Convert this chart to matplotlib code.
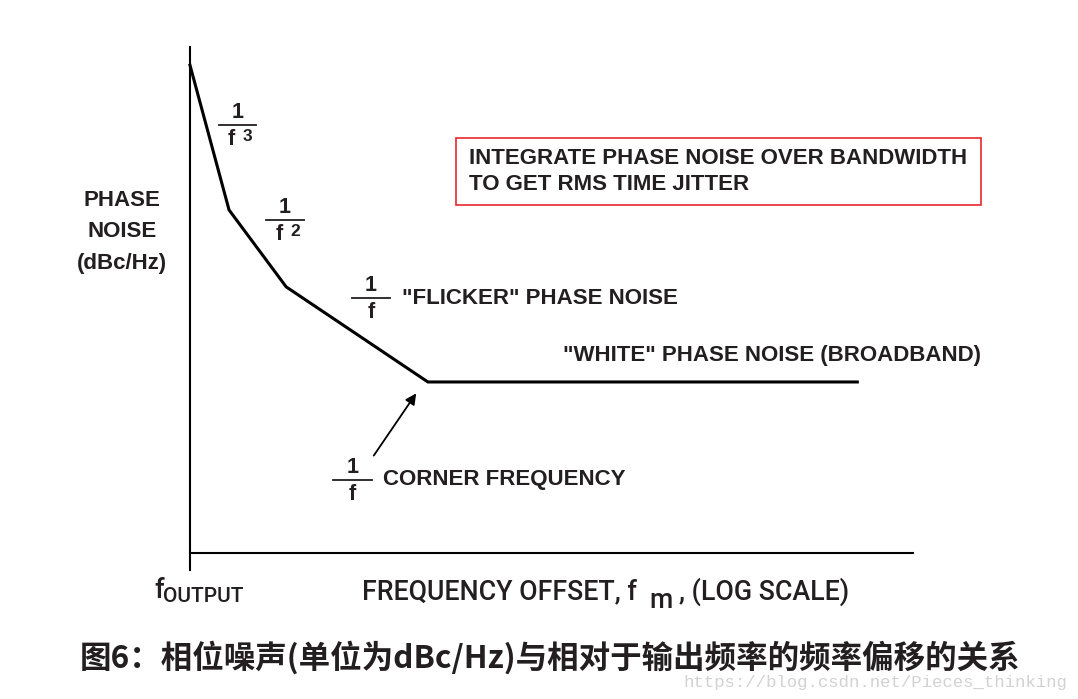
import matplotlib
matplotlib.use('Agg')

import matplotlib.pyplot as plt
from matplotlib.lines import Line2D
from matplotlib.patches import Rectangle

# piecewise phase-noise curve (arbitrary units, 0..100 on both axes)
freq_offset = [0.0, 5.4, 13.3, 32.9, 92.3]
phase_noise = [96.4, 67.8, 52.6, 33.8, 33.8]

# corner-frequency arrow: tail -> head
arrow_tail = (25.2, 18.8)
arrow_head = (31.5, 32.0)

slope_labels = ["3", "2", "", ""]
note_lines = ["INTEGRATE PHASE NOISE OVER BANDWIDTH", "TO GET RMS TIME JITTER"]
ylabel_lines = ["PHASE", "NOISE", "(dBc/Hz)"]
caption = "图6：相位噪声(单位为dBc/Hz)与相对于输出频率的频率偏移的关系"
watermark = "https://blog.csdn.net/Pieces_thinking"

W, H = 1078, 699
SANS = ['Liberation Sans', 'DejaVu Sans']
NARROW = ['Roboto', 'Liberation Sans', 'DejaVu Sans']
INK = '#231f20'


def px(x, y):
    return x / W, 1 - y / H


fig = plt.figure(figsize=(W / 100, H / 100), dpi=100)
ax = fig.add_axes([190 / W, 1 - 553 / H, (913 - 190) / W, (553 - 47) / H])
ax.set_xlim(0, 100)
ax.set_ylim(0, 100)
for s in ax.spines.values():
    s.set_visible(False)
ax.set_xticks([])
ax.set_yticks([])
ax.patch.set_alpha(0)

# axes lines (left one runs a bit below the bottom one)
ax.plot([0, 0], [-0.034, 1], transform=ax.transAxes, color='black', lw=1.5, clip_on=False)
ax.plot([0, 1], [0, 0], transform=ax.transAxes, color='black', lw=1.5, clip_on=False)

ax.plot(freq_offset, phase_noise, color='black', lw=2.2, solid_joinstyle='miter', clip_on=False)

ax.annotate('', xy=arrow_head, xytext=arrow_tail,
            arrowprops=dict(arrowstyle='-|>', color='black', lw=1.3, mutation_scale=16))


def frac(xl, xr, y, power=''):
    fig.add_artist(Line2D([xl / W, xr / W], [1 - y / H, 1 - y / H], color=INK, lw=1.3))
    xc = (xl + xr) / 2
    fig.text(*px(xc, y - 2), "1", ha='center', va='bottom', fontsize=15.5, family=SANS,
             fontweight='bold', color=INK)
    if power:
        fig.text(*px(xc - 6, y + 4), "f", ha='center', va='top', fontsize=15.5, family=SANS,
                 fontweight='bold', color=INK)
        fig.text(*px(xc + 5, y + 4), power, ha='left', va='top', fontsize=12.5, family=SANS,
                 fontweight='bold', color=INK)
    else:
        fig.text(*px(xc, y + 4), "f", ha='center', va='top', fontsize=15.5, family=SANS,
                 fontweight='bold', color=INK)


frac(219, 256, 125, slope_labels[0])
frac(266, 304, 220, slope_labels[1])
frac(352, 390, 298)
frac(333, 372, 480)

kw = dict(fontsize=16, family=SANS, fontweight='bold', color=INK)
fig.text(*px(402, 298), '"FLICKER" PHASE NOISE', ha='left', va='center', **kw)
fig.text(*px(563, 356), '"WHITE" PHASE NOISE (BROADBAND)', ha='left', va='center', **kw)
fig.text(*px(383, 479), 'CORNER FREQUENCY', ha='left', va='center', **kw)

# note box
fig.add_artist(Rectangle(px(456, 205), (981 - 456) / W, (205 - 138) / H,
                         fill=False, edgecolor='#e8262d', lw=1.2))
fig.text(*px(469, 158), note_lines[0], ha='left', va='center', **kw)
fig.text(*px(469, 185), note_lines[1], ha='left', va='center', **kw)

for i, t in enumerate(ylabel_lines):
    fig.text(*px(122, 200 + 31.5 * i), t, ha='center', va='center', fontsize=16, family=SANS,
             fontweight='bold', color=INK)

# x axis labels
xk = dict(family=NARROW, fontweight='medium', color=INK)
fig.text(*px(154, 590), "f", ha='left', va='center', fontsize=19.5, **xk)
fig.text(*px(163, 597), "OUTPUT", ha='left', va='center', fontsize=15, **xk)
fig.text(*px(362, 592), "FREQUENCY OFFSET, f", ha='left', va='center', fontsize=19.3, **xk)
fig.text(*px(649, 600), "m", ha='left', va='center', fontsize=19.3, **xk)
fig.text(*px(679, 592), ", (LOG SCALE)", ha='left', va='center', fontsize=19.3, **xk)

fig.text(*px(550, 658), caption, ha='center', va='center', fontsize=22.7, fontweight='bold',
         fontstyle='italic', family=['Noto Sans CJK SC', 'DejaVu Sans'], color='#231f20')
fig.text(*px(1067, 683), watermark, ha='right', va='center', fontsize=12.5,
         family=['Liberation Mono', 'DejaVu Sans Mono'], color='#d2d2d2')

plt.savefig("out.png", dpi=100)
plt.close()
